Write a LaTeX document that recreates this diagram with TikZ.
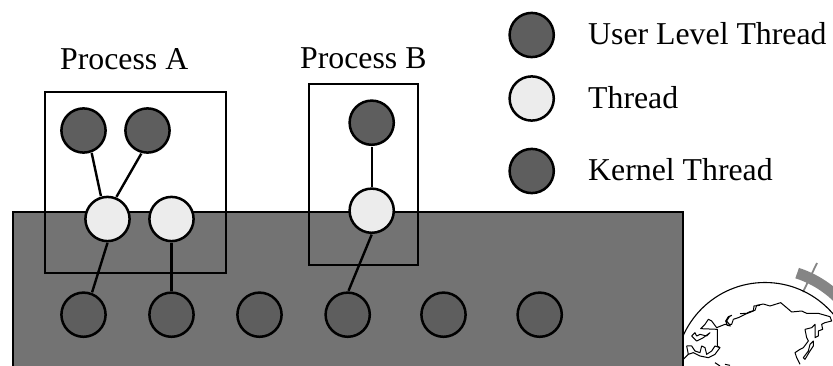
\documentclass[tikz,border=0pt]{standalone}
\usepackage{fontspec}
\setmainfont{Liberation Serif}
\definecolor{kernelgray}{HTML}{737373}
\definecolor{darkgray1}{HTML}{5E5E5E}
\definecolor{lightgray1}{HTML}{ECECEC}
\definecolor{bandgray}{HTML}{858585}
\tikzset{
  ult/.style={circle,draw=black,line width=2.5pt,fill=darkgray1,minimum size=44.2pt,inner sep=0pt,outer sep=1.8pt},
  thr/.style={circle,draw=black,line width=2.5pt,fill=lightgray1,minimum size=44.2pt,inner sep=0pt,outer sep=1.8pt},
  conn/.style={draw=black,line width=2.4pt},
  boxline/.style={draw=black,line width=2.4pt},
  label/.style={anchor=base west,inner sep=0pt,font=\fontsize{31.8}{36}\selectfont},
  coast/.style={draw=black,line width=1pt,line join=round},
}
\begin{document}
\begin{tikzpicture}[x=1pt,y=-1pt]
\useasboundingbox (0,0) rectangle (833,366);
\clip (0,0) rectangle (833,366);
% globe
\draw[bandgray,line width=1.8pt] (817,263) -- (803,292);
\draw[bandgray,line width=11pt] ([shift={(-72:104)}]765,372) arc[start angle=-72,end angle=-40,radius=104];
\draw[black,line width=1.1pt] (765,372) circle[radius=89.5];
\begin{scope}[shift={(750,296)},x=0.3333pt,y=-0.3333pt]
\draw[coast] (-30,53) -- (-10,52) -- (0,47) -- (15,43) -- (20,28) -- (40,24) -- (60,30) -- (92,20) -- (110,35) -- (125,48) -- (155,45) -- (170,52) -- (205,52) -- (240,62) -- (245,75) -- (225,80) -- (215,85) -- (218,100) -- (205,105) -- (205,120) -- (195,125) -- (195,85) -- (185,95) -- (165,100) -- (170,125) -- (175,135) -- (160,155) -- (150,160) -- (135,170) -- (140,185) -- (150,205);
\draw[coast] (190,135) -- (180,145) -- (175,165) -- (160,185) -- (165,190) -- (180,165) -- (190,150) -- cycle;
\end{scope}
\begin{scope}[shift={(680,296)},x=0.3333pt,y=-0.3333pt]
\draw[coast] (240,28) -- (222,30) -- (220,45) -- (195,55) -- (175,65) -- (160,70) -- (155,85) -- (148,85) -- (140,75) -- (148,62) -- (155,58) -- (145,62) -- (137,75) -- (142,88) -- (152,90) -- (135,85) -- (110,95) -- (95,75) -- (85,70) -- (75,85) -- (62,98) -- (112,100) -- (112,150) -- (120,155) -- (105,175) -- (85,185) -- (60,180) -- (40,170) -- (25,175) -- (10,190);
\draw[coast] (35,120) -- (45,110) -- (50,120) -- (60,115) -- (80,120) -- (90,110) -- (70,125) -- (50,135) -- (35,120);
\draw[coast] (20,150) -- (35,150) -- (45,165) -- (60,170) -- (65,150) -- (75,155) -- (80,175) -- (95,165) -- (105,150) -- (120,155);
\draw[coast] (20,150) -- (25,175);
\draw[coast] (105,200) -- (120,210);
\draw[coast] (135,205) -- (150,208);
\end{scope}
% kernel area
\path[boxline,fill=kernelgray] (13,212) rectangle (683,390);
% process boxes
\path[boxline] (45,92) rectangle (226,273);
\path[boxline] (309,84) rectangle (418,265);
% labels
\node[label] (labA) at (60,70) {Process A};
\node[label] (labB) at (300,69) {Process B};
\node[label] (legU) at (588,45) {User Level Thread};
\node[label] (legT) at (588,108.5) {Thread};
\node[label] (legK) at (588,181) {Kernel Thread};
% legend circles
\node[ult] (cU) at (531.7,35) {};
\node[thr] (cT) at (531.7,98.5) {};
\node[ult] (cK) at (531.7,171) {};
% process A
\node[ult] (u1) at (83.5,130.5) {};
\node[ult] (u2) at (147.5,130.5) {};
\node[thr] (t1) at (107.5,219) {};
\node[thr] (t2) at (171.5,219) {};
% process B
\node[ult] (u3) at (371.7,122.7) {};
\node[thr] (t3) at (371.7,210.7) {};
% kernel threads
\node[ult] (k1) at (83.5,314.7) {};
\node[ult] (k2) at (171.5,314.7) {};
\node[ult] (k3) at (259.5,314.7) {};
\node[ult] (k4) at (347.7,314.7) {};
\node[ult] (k5) at (443.5,314.7) {};
\node[ult] (k6) at (539.7,314.7) {};
% connectors
\draw[conn] (u1.-70) -- (t1.106);
\draw[conn] (u2.-105) -- (t1.68);
\draw[conn] (t1.-90) -- (k1.69);
\draw[conn] (t2.-90) -- (k2.90);
\draw[conn] (u3.-90) -- (t3.90);
\draw[conn] (t3.-90) -- (k4.88);
\end{tikzpicture}
\end{document}
